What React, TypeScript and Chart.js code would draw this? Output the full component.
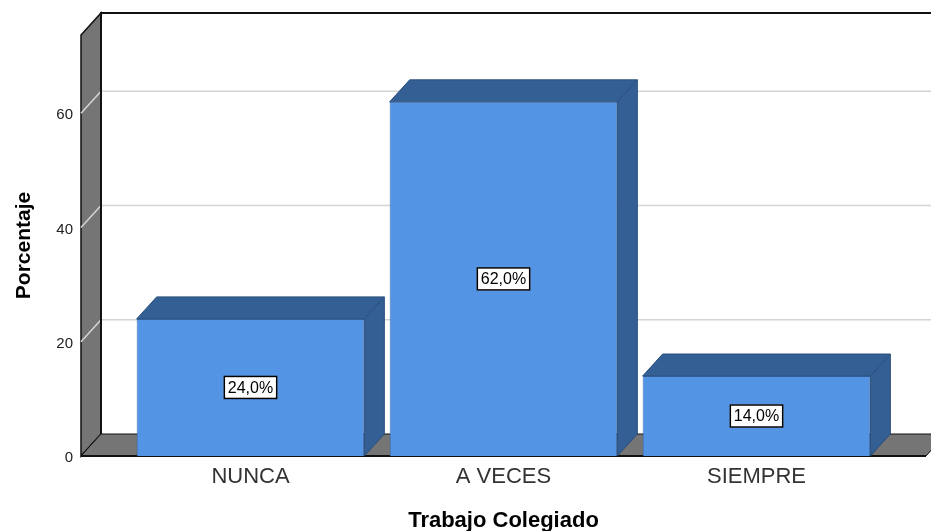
import React, { useEffect, useRef } from "react";
import { Chart, registerables } from "chart.js";

Chart.register(...registerables);

const categories = ["NUNCA", "A VECES", "SIEMPRE"];
const percentages = [24.0, 62.0, 14.0];
const yTicks = [0, 20, 40, 60];
const yMax = 73.7;
const xTitle = "Trabajo Colegiado";
const yTitle = "Porcentaje";

const FONT = "'Liberation Sans', Arial, sans-serif";
const DX = 20;
const DY = -22;
const EXT = 43;
const FRONT = "#5394e4";
const DARK = "#345f94";
const WALL = "#757575";

const threeD = {
  id: "threeD",
  beforeDatasetsDraw(chart: any) {
    const ctx = chart.ctx;
    const { left, right, top, bottom } = chart.chartArea;
    const ys = chart.scales.y;
    const fl = left - EXT;
    const fr = right + EXT;
    ctx.save();
    ctx.fillStyle = "#ffffff";
    ctx.fillRect(fl + DX, top + DY, fr - fl + 40, bottom - top);
    ctx.beginPath();
    ctx.moveTo(fl, top);
    ctx.lineTo(fl + DX, top + DY);
    ctx.lineTo(fl + DX, bottom + DY);
    ctx.lineTo(fl, bottom);
    ctx.closePath();
    ctx.fillStyle = WALL;
    ctx.fill();
    ctx.lineWidth = 1.5;
    ctx.strokeStyle = "#111";
    ctx.stroke();
    ctx.lineWidth = 1.5;
    ctx.strokeStyle = "#d4d4d4";
    for (const v of yTicks) {
      if (v === 0) continue;
      const y = ys.getPixelForValue(v);
      ctx.beginPath();
      ctx.moveTo(fl, y);
      ctx.lineTo(fl + DX, y + DY);
      ctx.lineTo(chart.width + 5, y + DY);
      ctx.stroke();
    }
    ctx.beginPath();
    ctx.moveTo(fl, bottom);
    ctx.lineTo(fl + DX, bottom + DY);
    ctx.lineTo(fr + DX, bottom + DY);
    ctx.lineTo(fr, bottom);
    ctx.closePath();
    ctx.fillStyle = WALL;
    ctx.fill();
    ctx.lineWidth = 1;
    ctx.strokeStyle = "#111";
    ctx.stroke();
    ctx.lineWidth = 2;
    ctx.beginPath();
    ctx.moveTo(fl, bottom);
    ctx.lineTo(fr, bottom);
    ctx.stroke();
    ctx.lineWidth = 2;
    ctx.beginPath();
    ctx.moveTo(fl + DX, bottom + DY);
    ctx.lineTo(fl + DX, top + DY);
    ctx.lineTo(chart.width + 5, top + DY);
    ctx.stroke();
    ctx.restore();
  },
  afterDatasetsDraw(chart: any) {
    const ctx = chart.ctx;
    const meta = chart.getDatasetMeta(0);
    ctx.save();
    meta.data.forEach((bar: any, i: number) => {
      const { x, y, base, width } = bar.getProps(["x", "y", "base", "width"], true);
      const l = x - width / 2;
      const r = x + width / 2;
      ctx.fillStyle = DARK;
      ctx.strokeStyle = "#2a4f7c";
      ctx.lineWidth = 1;
      ctx.beginPath();
      ctx.moveTo(l, y);
      ctx.lineTo(l + DX, y + DY);
      ctx.lineTo(r + DX, y + DY);
      ctx.lineTo(r, y);
      ctx.closePath();
      ctx.fill();
      ctx.stroke();
      ctx.beginPath();
      ctx.moveTo(r, y);
      ctx.lineTo(r + DX, y + DY);
      ctx.lineTo(r + DX, base + DY);
      ctx.lineTo(r, base);
      ctx.closePath();
      ctx.fill();
      ctx.stroke();
      const txt = percentages[i].toFixed(1).replace(".", ",") + "%";
      ctx.font = `16px ${FONT}`;
      const tw = ctx.measureText(txt).width;
      const cy = (y + base) / 2;
      const bw = tw + 8;
      const bh = 23;
      ctx.fillStyle = "#ffffff";
      ctx.fillRect(x - bw / 2, cy - bh / 2, bw, bh);
      ctx.lineWidth = 1.5;
      ctx.strokeStyle = "#000";
      ctx.strokeRect(x - bw / 2 + 0.5, cy - bh / 2 + 0.5, bw - 1, bh - 1);
      ctx.fillStyle = "#000";
      ctx.textAlign = "center";
      ctx.textBaseline = "middle";
      ctx.fillText(txt, x, cy + 1);
    });
    ctx.restore();
  },
  afterDraw(chart: any) {
    const ctx = chart.ctx;
    const { left, bottom, top } = chart.chartArea;
    const ys = chart.scales.y;
    const xs = chart.scales.x;
    const fl = left - EXT;
    ctx.save();
    ctx.fillStyle = "#222";
    ctx.font = `15px ${FONT}`;
    ctx.textAlign = "right";
    ctx.textBaseline = "middle";
    for (const v of yTicks) {
      ctx.fillText(String(v), fl - 8, ys.getPixelForValue(v) + 2);
    }
    ctx.font = `22px ${FONT}`;
    ctx.textAlign = "center";
    ctx.fillStyle = "#333";
    categories.forEach((c, i) => {
      ctx.fillText(c, xs.getPixelForValue(i), bottom + 21);
    });
    ctx.fillStyle = "#000";
    ctx.font = `bold 22px ${FONT}`;
    ctx.textBaseline = "alphabetic";
    ctx.fillText(xTitle, (xs.left + xs.right) / 2, bottom + 71);
    ctx.font = `bold 21px ${FONT}`;
    ctx.translate(30, (top + bottom) / 2 + 0);
    ctx.rotate(-Math.PI / 2);
    ctx.fillText(yTitle, 0, 0);
    ctx.restore();
  },
};

export default function App() {
  const ref = useRef<HTMLCanvasElement | null>(null);
  useEffect(() => {
    if (!ref.current) return;
    const chart = new Chart(ref.current, {
      type: "bar",
      data: {
        labels: categories,
        datasets: [
          {
            data: percentages,
            backgroundColor: FRONT,
            borderColor: "#3a6fb0",
            borderWidth: 1,
            barPercentage: 0.9,
            categoryPercentage: 1.0,
          },
        ],
      },
      options: {
        responsive: false,
        animation: false,
        layout: { padding: { left: 124, right: 48, top: 35, bottom: 75 } },
        plugins: { legend: { display: false }, tooltip: { enabled: false } },
        scales: {
          x: { display: false },
          y: { display: false, min: 0, max: yMax },
        },
      },
      plugins: [threeD],
    });
    return () => chart.destroy();
  }, []);
  return (
    <div style={{ position: "fixed", left: 0, top: 0, width: 931, height: 531, background: "#fff" }}>
      <canvas ref={ref} width={931} height={531} />
    </div>
  );
}
